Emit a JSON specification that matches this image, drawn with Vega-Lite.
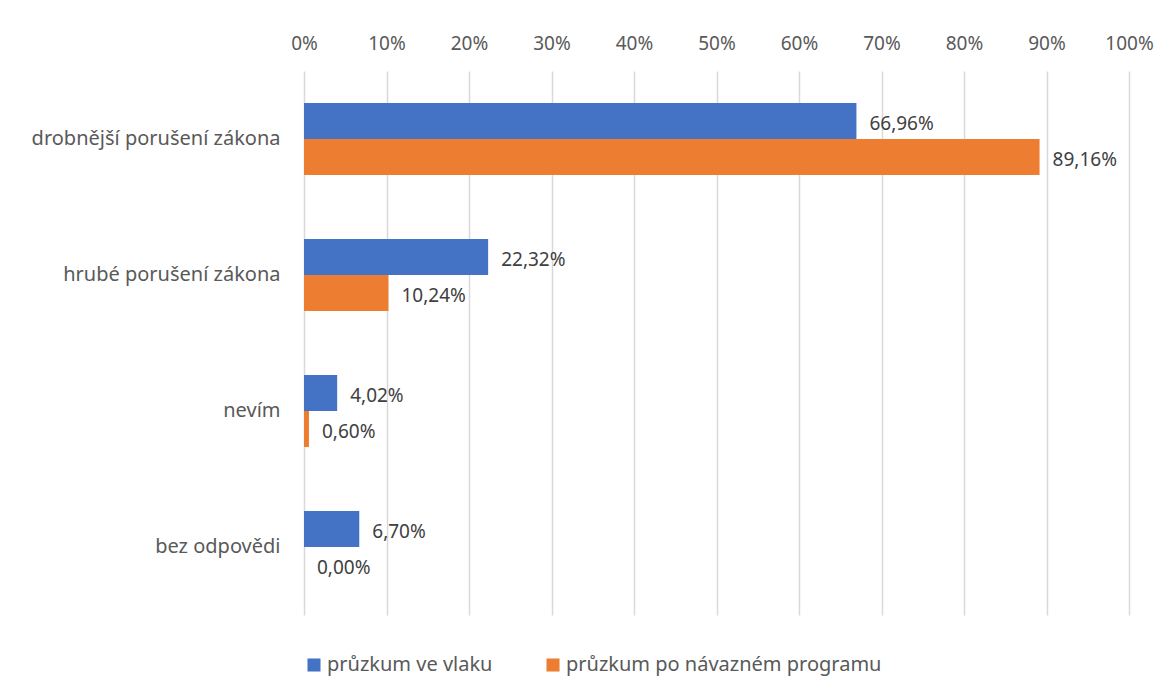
{
  "$schema": "https://vega.github.io/schema/vega-lite/v6.json",
  "autosize": {"type": "none"},
  "width": 825,
  "height": 544,
  "padding": {"left": 304, "top": 71, "right": 45, "bottom": 82},
  "background": "white",
  "config": {
    "locale": {"number": {"decimal": ",", "thousands": " ", "grouping": [3], "currency": ["", " Kč"]}},
    "view": {"stroke": null},
    "font": "Noto Sans"
  },
  "data": {
    "values": [
      {"kategorie": "drobnější porušení zákona", "pruzkum": "průzkum ve vlaku", "hodnota": 0.6696},
      {"kategorie": "drobnější porušení zákona", "pruzkum": "průzkum po návazném programu", "hodnota": 0.8916},
      {"kategorie": "hrubé porušení zákona", "pruzkum": "průzkum ve vlaku", "hodnota": 0.2232},
      {"kategorie": "hrubé porušení zákona", "pruzkum": "průzkum po návazném programu", "hodnota": 0.1024},
      {"kategorie": "nevím", "pruzkum": "průzkum ve vlaku", "hodnota": 0.0402},
      {"kategorie": "nevím", "pruzkum": "průzkum po návazném programu", "hodnota": 0.006},
      {"kategorie": "bez odpovědi", "pruzkum": "průzkum ve vlaku", "hodnota": 0.067},
      {"kategorie": "bez odpovědi", "pruzkum": "průzkum po návazném programu", "hodnota": 0.0}
    ]
  },
  "encoding": {
    "y": {
      "field": "kategorie",
      "type": "nominal",
      "sort": ["drobnější porušení zákona", "hrubé porušení zákona", "nevím", "bez odpovědi"],
      "scale": {"paddingInner": 0.47, "paddingOuter": 0.235},
      "axis": {"title": null, "domain": false, "ticks": false, "labelPadding": 24, "labelFontSize": 20, "labelColor": "#595959", "labelFont": "Noto Sans", "labelLimit": 0}
    },
    "yOffset": {
      "field": "pruzkum",
      "type": "nominal",
      "sort": ["průzkum ve vlaku", "průzkum po návazném programu"]
    },
    "x": {
      "field": "hodnota",
      "type": "quantitative",
      "scale": {"domain": [0, 1], "nice": false},
      "axis": {"orient": "top", "title": null, "format": ".0%", "values": [0, 0.1, 0.2, 0.3, 0.4, 0.5, 0.6, 0.7, 0.8, 0.9, 1], "domain": false, "ticks": false, "labelPadding": 18, "labelFontSize": 19, "labelColor": "#595959", "labelFont": "Noto Sans", "gridColor": "#d9d9d9", "gridWidth": 1.5, "labelFlush": false}
    }
  },
  "layer": [
    {
      "mark": {"type": "bar"},
      "encoding": {
        "color": {
          "field": "pruzkum",
          "type": "nominal",
          "sort": ["průzkum ve vlaku", "průzkum po návazném programu"],
          "scale": {"range": ["#4472C4", "#ED7D31"]},
          "legend": {"orient": "bottom", "direction": "horizontal", "title": null, "symbolType": "square", "symbolSize": 170, "symbolStrokeWidth": 0, "symbolOpacity": 1, "labelFontSize": 20, "labelColor": "#595959", "labelFont": "Noto Sans", "labelLimit": 0, "columnPadding": 50, "labelOffset": 3, "offset": 40}
        }
      }
    },
    {
      "mark": {"type": "text", "align": "left", "dx": 13, "dy": 3, "fontSize": 19, "color": "#404040", "font": "Noto Sans"},
      "encoding": {
        "text": {"field": "hodnota", "type": "quantitative", "format": ".2%"}
      }
    }
  ]
}
